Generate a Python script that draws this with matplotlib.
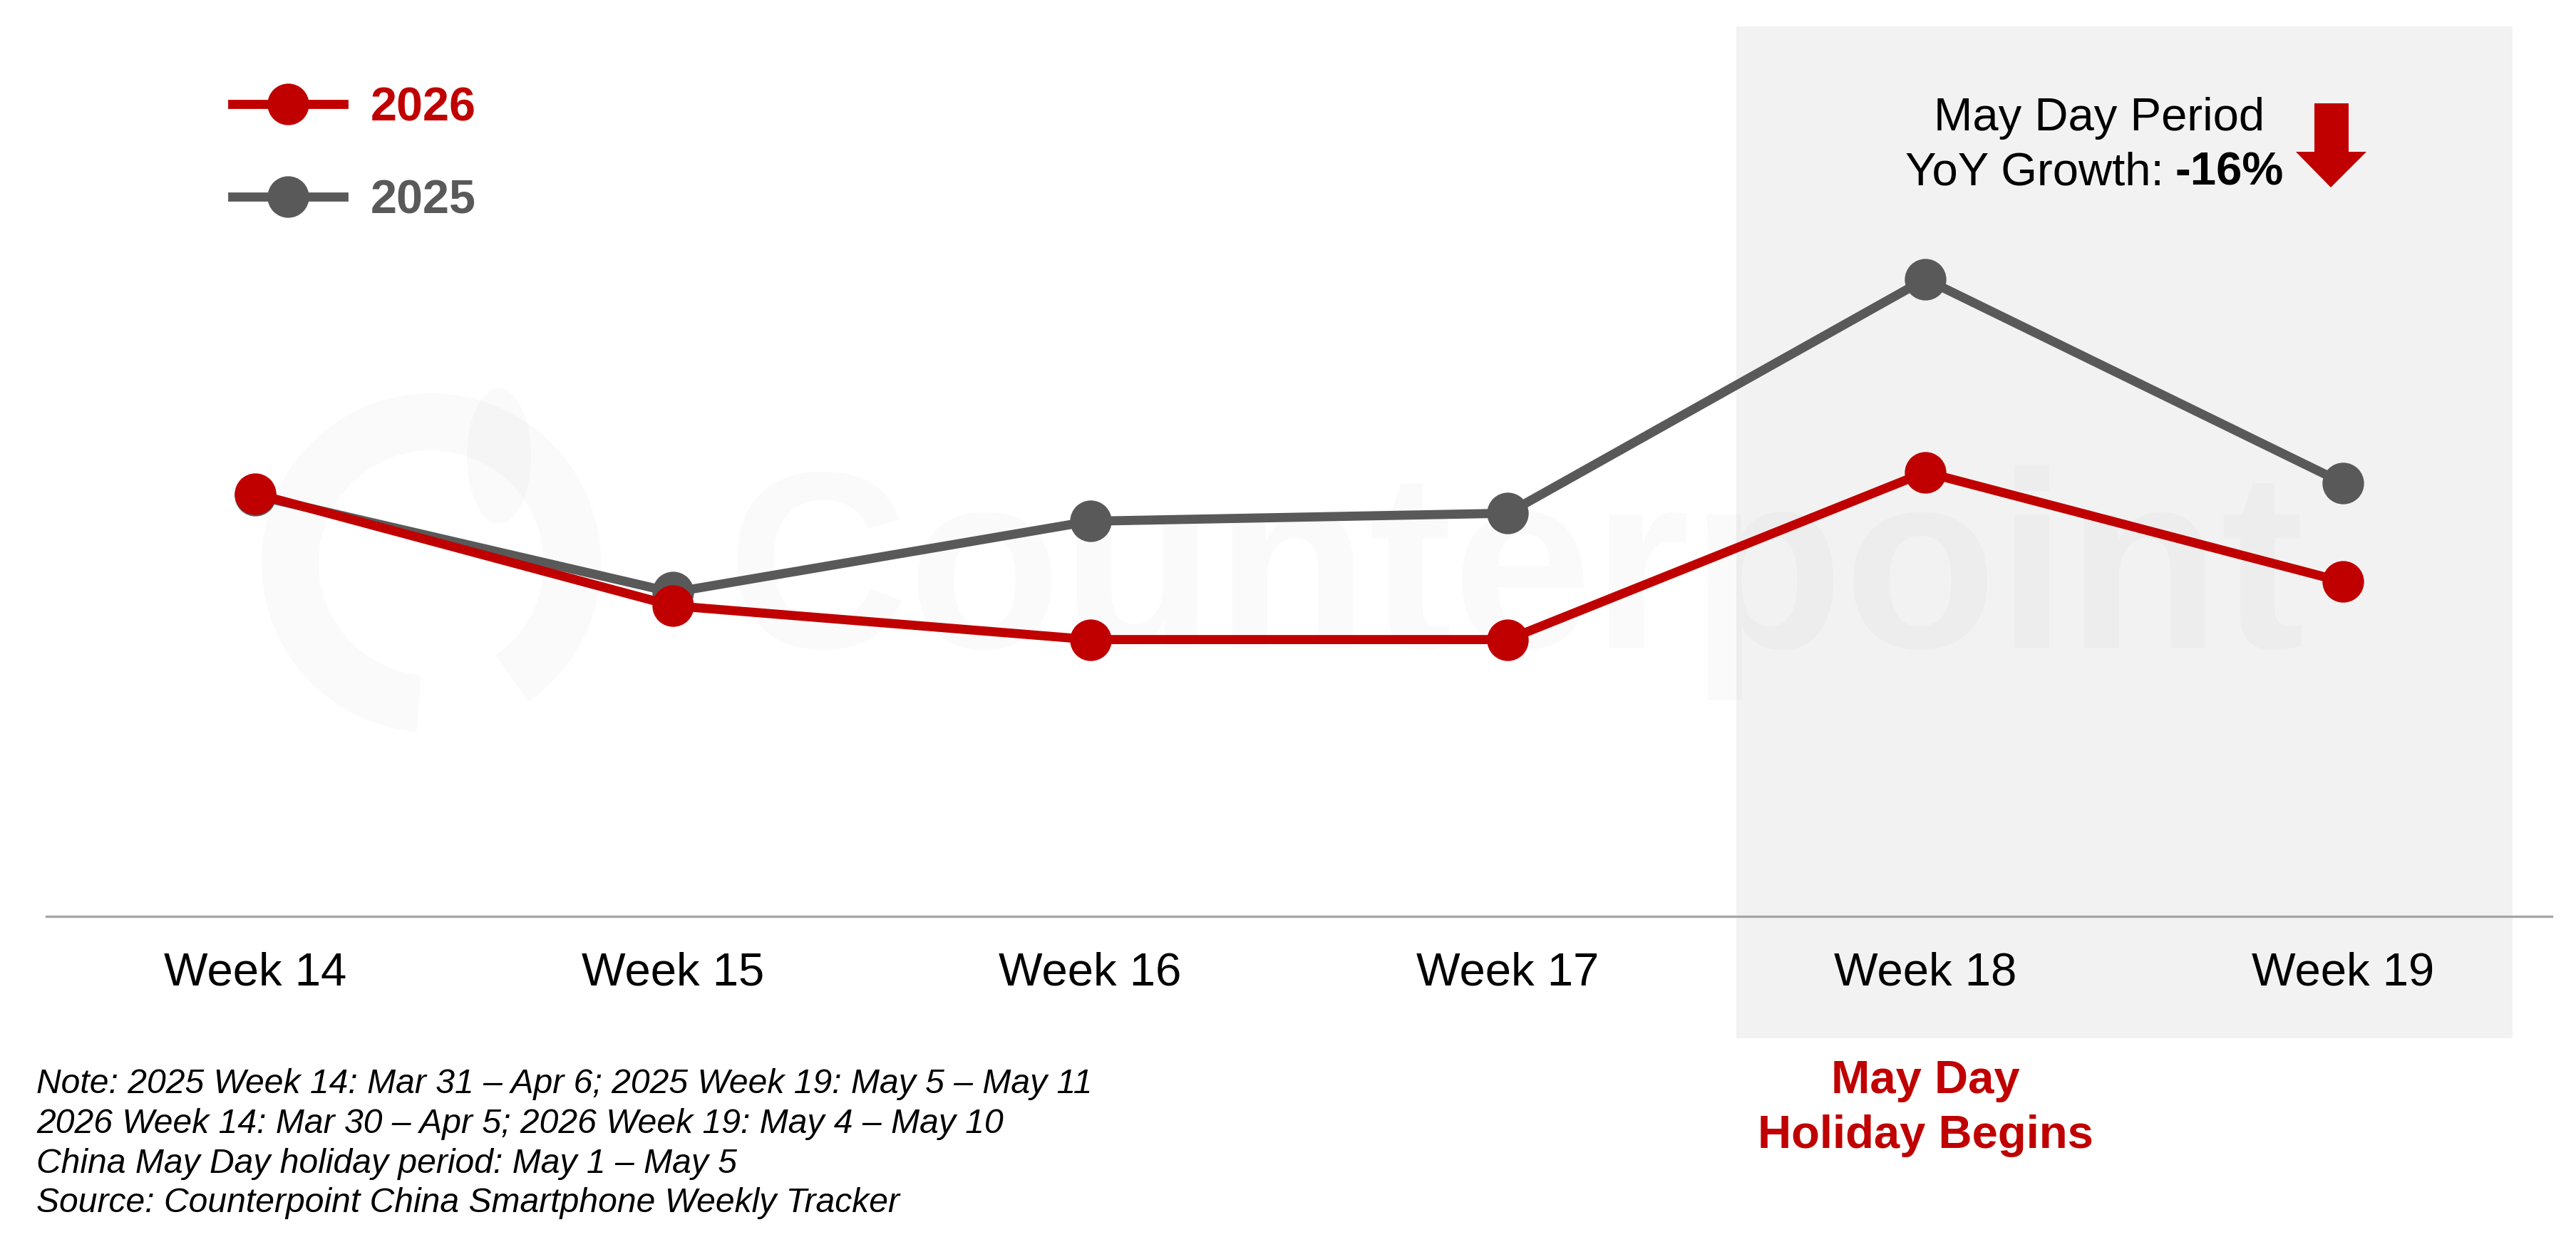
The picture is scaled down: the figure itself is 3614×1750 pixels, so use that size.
import matplotlib
matplotlib.use("Agg")
import matplotlib.pyplot as plt
from matplotlib.patches import Rectangle, Wedge, Ellipse, Polygon
from matplotlib.lines import Line2D
import matplotlib.transforms as mtransforms

plt.rcParams['font.family'] = ['Liberation Sans', 'DejaVu Sans']

weeks = ["Week 14", "Week 15", "Week 16", "Week 17", "Week 18", "Week 19"]
# relative weekly sales index (axis 0-100)
sales_2026 = [47.5, 34.9, 31.1, 31.1, 49.9, 37.6]
sales_2025 = [47.3, 36.4, 44.4, 45.3, 71.6, 48.7]
yoy_text = "-16%"
notes = [
    "Note: 2025 Week 14: Mar 31 \u2013 Apr 6; 2025 Week 19: May 5 \u2013 May 11",
    "2026 Week 14: Mar 30 \u2013 Apr 5; 2026 Week 19: May 4 \u2013 May 10",
    "China May Day holiday period: May 1 \u2013 May 5",
    "Source: Counterpoint China Smartphone Weekly Tracker",
]

red = "#C00000"
grey = "#595959"

W, H = 3614, 1750
fig = plt.figure(figsize=(W / 200, H / 200), dpi=200)

# background layer in pixel coordinates (highlight band, watermark, arrow)
bg = fig.add_axes([0, 0, 1, 1], zorder=0)
bg.set_xlim(0, W)
bg.set_ylim(H, 0)
bg.axis("off")

bg.add_patch(Rectangle((2436, 37), 3525 - 2436, 1457 - 37, facecolor="#F2F2F2", edgecolor="none", zorder=1))

# faint Counterpoint watermark
wm_alpha = 0.02
bg.add_patch(Wedge((605, 790), 238, 95, 415, width=80, facecolor="black", alpha=wm_alpha, edgecolor="none", zorder=2))
bg.add_patch(Ellipse((700, 640), 90, 190, facecolor="black", alpha=wm_alpha, edgecolor="none", zorder=2))
bg.text(1020, 909, "Counterpoint", fontsize=127, fontweight="bold", color="black", alpha=wm_alpha,
        ha="left", va="baseline", zorder=2)

# down arrow
bg.add_patch(Polygon([(3247, 145), (3295, 145), (3295, 213), (3320, 213), (3270, 263),
                      (3221, 213), (3247, 213)], closed=True, facecolor=red, edgecolor="none", zorder=3))

ax = fig.add_axes([65 / W, 1 - 1286 / H, 3515 / W, 1249 / H], zorder=1)
ax.set_facecolor("none")

x = list(range(len(weeks)))
ax.plot(x, sales_2025, color=grey, lw=4.6, marker="o", ms=20, label="2025", zorder=3)
ax.plot(x, sales_2026, color=red, lw=4.6, marker="o", ms=20, label="2026", zorder=4)

ax.set_xlim(-0.5, 5.5)
ax.set_ylim(0, 100)
ax.set_xticks(x)
ax.set_xticklabels(weeks, fontsize=23.5)
ax.set_yticks([])
ax.tick_params(axis="x", length=0, pad=17.8)
for s in ["top", "right", "left"]:
    ax.spines[s].set_visible(False)
ax.spines["bottom"].set_color("#A6A6A6")
ax.spines["bottom"].set_linewidth(1.2)

handles = [Line2D([], [], color=red, lw=4.6, marker="o", ms=20),
           Line2D([], [], color=grey, lw=4.6, marker="o", ms=20)]
ax.legend(handles, ["2026", "2025"], loc="upper left", bbox_to_anchor=(326 / W, 1 - 121 / H),
          bbox_transform=fig.transFigure, frameon=False, prop={"weight": "bold", "size": 24},
          labelcolor=[red, grey], handlelength=2.34, handletextpad=0.57, labelspacing=1.03,
          borderpad=0, borderaxespad=0, numpoints=1)

def fx(px):
    return px / W

def fy(py):
    return 1 - py / H

fig.text(fx(2945), fy(183), "May Day Period", fontsize=23.5, ha="center", va="baseline")
fig.text(fx(3036), fy(259), "YoY Growth:", fontsize=23.5, ha="right", va="baseline")
fig.text(fx(3052), fy(259), yoy_text, fontsize=23.5, fontweight="bold", ha="left", va="baseline")

trans = mtransforms.blended_transform_factory(ax.transData, fig.transFigure)
ax.text(4, fy(1534), "May Day", transform=trans, fontsize=23.5, fontweight="bold", color=red,
        ha="center", va="baseline", clip_on=False)
ax.text(4, fy(1611), "Holiday Begins", transform=trans, fontsize=23.5, fontweight="bold", color=red,
        ha="center", va="baseline", clip_on=False)

for i, line in enumerate(notes):
    fig.text(fx(51), fy(1534.5 + i * 55.5), line, fontsize=17.3, style="italic", ha="left", va="baseline")

fig.savefig("out.png", dpi=200, facecolor="white")
